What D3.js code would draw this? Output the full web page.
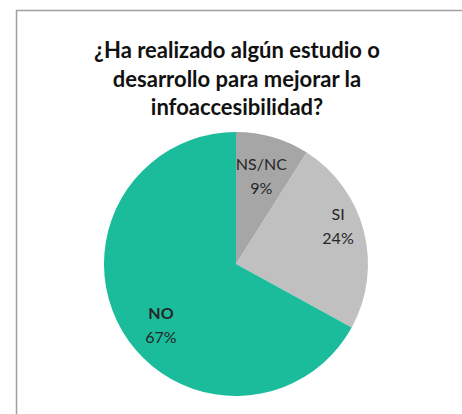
<!DOCTYPE html>
<html>
<head>
<meta charset="utf-8">
<script src="https://cdn.jsdelivr.net/npm/d3@7"></script>
<style>
  html, body { margin: 0; padding: 0; background: #fff; }
  svg { display: block; }
</style>
</head>
<body>
<svg id="chart" width="462" height="414"></svg>
<script>
// Survey answers and their shares (percent)
const categories = ["NS/NC", "SI", "NO"];
const shares = [9, 24, 67];
const sliceColors = ["#a6a6a6", "#c0c0c0", "#1abc9c"];
const titleLines = ["¿Ha realizado algún estudio o", "desarrollo para mejorar la", "infoaccesibilidad?"];

const svg = d3.select("#chart");
const W = 462, H = 414;

// Chart frame
svg.append("rect")
  .attr("x", 16.5).attr("y", 10.5)
  .attr("width", W).attr("height", H)
  .attr("fill", "#fff")
  .attr("stroke", "#a0a0a0")
  .attr("stroke-width", 1.5);

// Title
const title = svg.append("text")
  .attr("text-anchor", "middle")
  .attr("font-family", "Lato, 'Open Sans', sans-serif")
  .attr("font-weight", "bold")
  .attr("font-size", 22)
  .attr("fill", "#111");
titleLines.forEach((line, i) => {
  title.append("tspan")
    .attr("x", 237)
    .attr("y", 58 + i * 28.5)
    .text(line);
});

// Pie
const cx = 236, cy = 264, r = 132;
const data = categories.map((c, i) => ({ name: c, value: shares[i], color: sliceColors[i] }));
const pie = d3.pie().sort(null).value(d => d.value);
const arc = d3.arc().innerRadius(0).outerRadius(r);
const arcs = pie(data);

const g = svg.append("g").attr("transform", `translate(${cx},${cy})`);
g.selectAll("path")
  .data(arcs)
  .join("path")
  .attr("d", arc)
  .attr("fill", d => d.data.color);

// Label placement: fraction of radius and angular nudge (degrees) from the bisector
const labelPlace = {
  "NS/NC": { rf: 0.65, nudge: 1 },
  "SI":    { rf: 0.81, nudge: -3 },
  "NO":    { rf: 0.76, nudge: -11 }
};
const labels = g.selectAll("g.label")
  .data(arcs)
  .join("g")
  .attr("class", "label")
  .attr("transform", d => {
    const p = labelPlace[d.data.name];
    const a = (d.startAngle + d.endAngle) / 2 + p.nudge * Math.PI / 180;
    const rr = r * p.rf;
    return `translate(${Math.sin(a) * rr},${-Math.cos(a) * rr})`;
  });

labels.append("text")
  .attr("text-anchor", "middle")
  .attr("font-family", "Lato, 'Open Sans', sans-serif")
  .attr("font-size", 16)
  .attr("font-weight", d => d.data.name === "NO" ? "bold" : "normal")
  .attr("fill", "#262626")
  .attr("y", -12)
  .text(d => d.data.name);

labels.append("text")
  .attr("text-anchor", "middle")
  .attr("font-family", "Lato, 'Open Sans', sans-serif")
  .attr("font-size", 16)
  .attr("fill", "#262626")
  .attr("y", 12)
  .text(d => d.data.value + "%");
</script>
</body>
</html>
